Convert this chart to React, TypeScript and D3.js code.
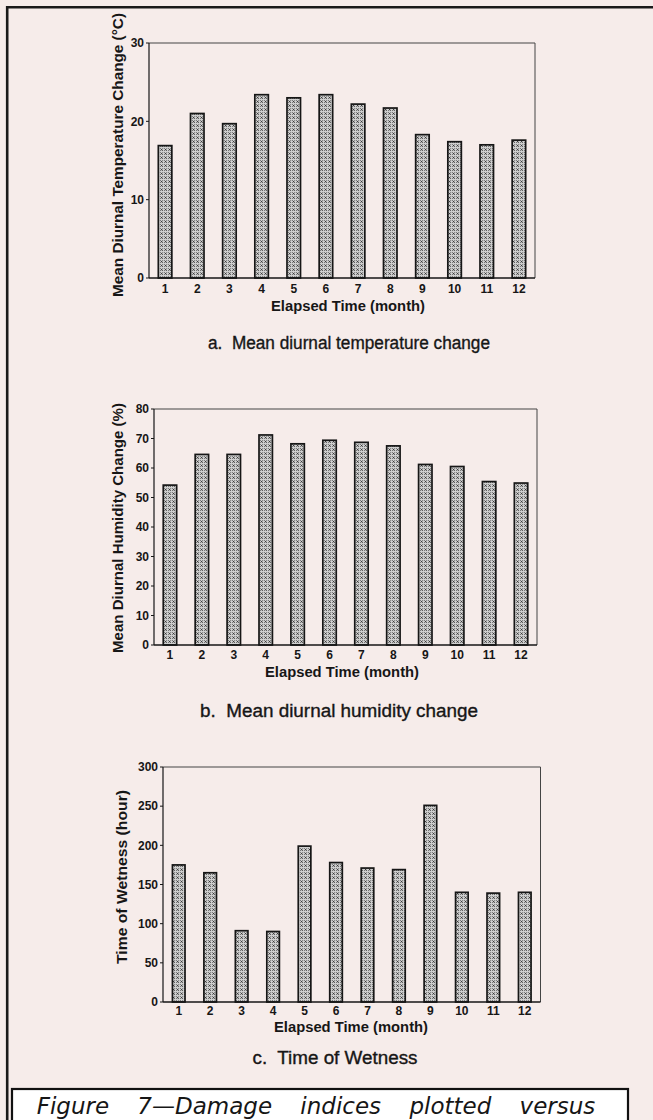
import React from "react";
import * as d3 from "d3";

// values
const months = ["1", "2", "3", "4", "5", "6", "7", "8", "9", "10", "11", "12"];
const tempChange = [16.9, 21.0, 19.7, 23.4, 23.0, 23.4, 22.2, 21.7, 18.3, 17.4, 17.0, 17.6];
const humidityChange = [54.2, 64.6, 64.6, 71.2, 68.2, 69.4, 68.7, 67.5, 61.2, 60.5, 55.4, 54.9];
const wetnessHours = [175, 165, 91, 90, 199, 178, 171, 169, 251, 140, 139, 140];

const tempTicks = [0, 10, 20, 30];
const humidityTicks = [0, 10, 20, 30, 40, 50, 60, 70, 80];
const wetnessTicks = [0, 50, 100, 150, 200, 250, 300];

const BG = "#f6ecea";
const INK = "#161616";
const FONT = "Arial, 'Liberation Sans', Helvetica, sans-serif";

type PanelProps = {
  values: number[];
  ticks: number[];
  yLabel: string;
  yLabelLen: number;
  caption: string;
  captionLen: number;
  box: { left: number; right: number; top: number; bottom: number };
  yLabelPos: [number, number];
  tickY: number;
  titlePos: [number, number];
  captionPos: [number, number];
  padding?: number;
};

const Panel = ({ values, ticks, yLabel, yLabelLen, caption, captionLen, box, yLabelPos, tickY, titlePos, captionPos, padding = 0.58 }: PanelProps) => {
  const x = d3.scaleBand<string>()
    .domain(months)
    .range([box.left, box.right])
    .paddingInner(padding)
    .paddingOuter(padding / 2);

  const y = d3.scaleLinear()
    .domain([0, d3.max(ticks) as number])
    .range([box.bottom, box.top]);

  return (
    <g>
      {/* frame: thin top/right, heavier axes */}
      <line x1={box.left} x2={box.right} y1={box.top} y2={box.top} stroke="#444" strokeWidth={1} />
      <line x1={box.right} x2={box.right} y1={box.top} y2={box.bottom} stroke="#444" strokeWidth={1} />

      {values.map((v, i) => (
        <rect
          key={i}
          x={x(months[i])}
          y={y(v)}
          width={x.bandwidth()}
          height={y(0) - y(v)}
          fill="url(#hatch)"
          stroke={INK}
          strokeWidth={1.7}
        />
      ))}

      <line x1={box.left} x2={box.left} y1={box.top} y2={box.bottom} stroke={INK} strokeWidth={1.2} />
      <line x1={box.left} x2={box.right} y1={box.bottom} y2={box.bottom} stroke={INK} strokeWidth={1.4} />

      {ticks.map((t) => (
        <g key={t}>
          <line x1={box.left - 3} x2={box.left} y1={y(t)} y2={y(t)} stroke={INK} strokeWidth={1} />
          <text x={box.left - 5} y={y(t)} dy="0.36em" textAnchor="end" fontSize={12} fontWeight="bold" fill={INK}>
            {t}
          </text>
        </g>
      ))}

      {months.map((m) => (
        <text key={m} x={(x(m) as number) + x.bandwidth() / 2} y={tickY} dy="0.36em" textAnchor="middle" fontSize={12} fontWeight="bold" fill={INK}>
          {m}
        </text>
      ))}

      <text x={titlePos[0]} y={titlePos[1]} dy="0.36em" textAnchor="middle" fontSize={14} fontWeight="bold" fill={INK} textLength={154} lengthAdjust="spacingAndGlyphs">
        Elapsed Time (month)
      </text>

      <text
        transform={`translate(${yLabelPos[0]},${yLabelPos[1]}) rotate(-90)`}
        dy="0.36em"
        textAnchor="middle"
        fontSize={15}
        fontWeight="bold"
        fill={INK}
        textLength={yLabelLen}
        lengthAdjust="spacingAndGlyphs"
      >
        {yLabel}
      </text>

      <text
        x={captionPos[0]}
        y={captionPos[1]}
        dy="0.36em"
        textAnchor="middle"
        fontSize={18}
        fill={INK}
        stroke={INK}
        strokeWidth={0.35}
        xmlSpace="preserve"
        textLength={captionLen}
        lengthAdjust="spacingAndGlyphs"
      >
        {caption}
      </text>
    </g>
  );
};

const App = () => {
  return (
    <div style={{ position: "absolute", left: 0, top: 0 }}>
      <svg width={653} height={1120} style={{ display: "block", fontFamily: FONT }}>
        <defs>
          <pattern id="hatch" width={4} height={4} patternUnits="userSpaceOnUse">
            <rect width={4} height={4} fill="#cfcfcf" />
            <path d="M0.4,0.4 L2.8,2.8 M2.8,0.4 L0.4,2.8" stroke="#333" strokeWidth={0.9} />
          </pattern>
        </defs>

        <rect width={653} height={1120} fill={BG} />
        {/* outer page border (left and top only visible) */}
        <line x1={7.2} x2={7.2} y1={6} y2={1120} stroke="#1a1a1a" strokeWidth={2.6} />
        <line x1={6} x2={653} y1={7.2} y2={7.2} stroke="#1a1a1a" strokeWidth={2.6} />

        <Panel
          values={tempChange}
          ticks={tempTicks}
          yLabel="Mean Diurnal Temperature Change (°C)"
          yLabelLen={284}
          caption="a.  Mean diurnal temperature change"
          captionLen={282}
          box={{ left: 149, right: 535, top: 43, bottom: 278 }}
          yLabelPos={[118, 155]}
          tickY={289}
          titlePos={[348, 306]}
          captionPos={[349, 343]}
        />

        <Panel
          values={humidityChange}
          ticks={humidityTicks}
          yLabel="Mean Diurnal Humidity Change (%)"
          yLabelLen={250}
          caption="b.  Mean diurnal humidity change"
          captionLen={278}
          box={{ left: 154, right: 537, top: 409, bottom: 645 }}
          yLabelPos={[118, 528]}
          tickY={655}
          titlePos={[342, 672]}
          captionPos={[339, 711]}
        />

        <Panel
          values={wetnessHours}
          ticks={wetnessTicks}
          yLabel="Time of Wetness (hour)"
          yLabelLen={174}
          caption="c.  Time of Wetness"
          captionLen={165}
          box={{ left: 163, right: 540.5, top: 767, bottom: 1002 }}
          yLabelPos={[122, 877]}
          tickY={1011}
          titlePos={[351, 1027]}
          captionPos={[335, 1058]}
          padding={0.6}
        />

        {/* figure caption box, running off the page bottom */}
        <rect x={12} y={1089} width={616} height={40} fill="#ffffff" stroke="#111" strokeWidth={2.2} />
        <text
          x={316}
          y={1114}
          fontSize={23}
          fontStyle="italic"
          fill={INK}
          textAnchor="middle"
          wordSpacing={21}
          fontFamily="'DejaVu Sans', sans-serif"
        >
          Figure 7—Damage indices plotted versus
        </text>
      </svg>
    </div>
  );
};

export default App;
